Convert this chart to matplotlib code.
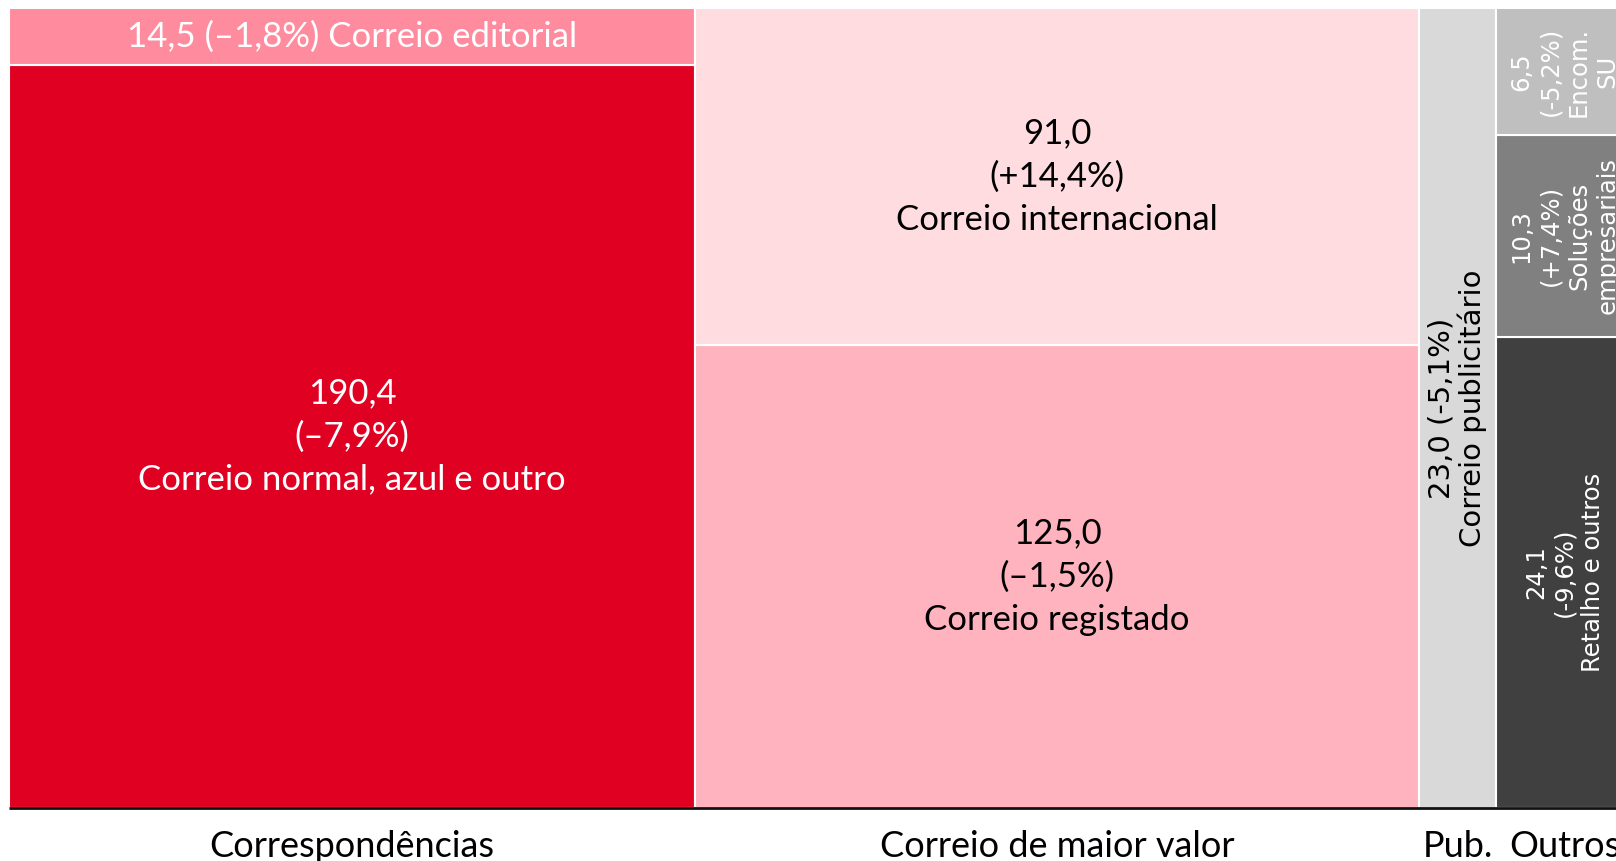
import matplotlib
matplotlib.use("Agg")
import matplotlib.pyplot as plt
from matplotlib import font_manager

# data: revenue by segment (values and year-on-year change)
groups = ["Correspondências", "Correio de maior valor", "Pub.", "Outros"]
names = [
    ["Correio normal, azul e outro", "Correio editorial"],
    ["Correio registado", "Correio internacional"],
    ["Correio publicitário"],
    ["Retalho e outros", "Soluções\nempresariais", "Encom.\nSU"],
]
values = [
    [190.4, 14.5],
    [125.0, 91.0],
    [23.0],
    [24.1, 10.3, 6.5],
]
changes = [
    [-7.9, -1.8],
    [-1.5, 14.4],
    [-5.1],
    [-9.6, 7.4, -5.2],
]
colors = [
    ["#E00022", "#FF8C9E"],
    ["#FFB3BF", "#FFDCE0"],
    ["#D9D9D9"],
    ["#404040", "#808080", "#BFBFBF"],
]
text_colors = [
    ["white", "white"],
    ["black", "black"],
    ["black"],
    ["white", "white", "white"],
]

installed = {f.name for f in font_manager.fontManager.ttflist}
narrow = "Liberation Sans Narrow" if "Liberation Sans Narrow" in installed else "Lato"
narrow_size = 30 if narrow == "Liberation Sans Narrow" else 26


def fmt(v):
    return f"{v:.1f}".replace(".", ",")


def fmt_pct(c, dash="–"):
    sign = "+" if c > 0 else dash
    return f"({sign}{fmt(abs(c))}%)"


W, H = 1616, 861
fig = plt.figure(figsize=(W / 100, H / 100), dpi=100)
totals = [sum(v) for v in values]
grand = sum(totals)
px_per_unit = 3.35
ax = fig.add_axes([9 / W, 53 / H, grand * px_per_unit / W, 800 / H])
ax.set_xlim(0, grand)
ax.set_ylim(0, 1)
ax.axis("off")

x0 = 0
for g, total in enumerate(totals):
    bottom = 0
    for i, v in enumerate(values[g]):
        h = v / total
        ax.bar(x0, h, width=total, bottom=bottom, align="edge",
               color=colors[g][i], edgecolor="white", linewidth=1.5)
        cx = x0 + total / 2
        cy = bottom + h / 2
        tc = text_colors[g][i]
        if g in (0, 1):
            if names[g][i] == "Correio editorial":
                label = f"{fmt(v)} {fmt_pct(changes[g][i])} {names[g][i]}"
            else:
                label = f"{fmt(v)}\n{fmt_pct(changes[g][i])}\n{names[g][i]}"
            ax.text(cx, cy, label, ha="center", va="center", color=tc,
                    fontsize=25, family="Lato", linespacing=1.42)
        elif g == 2:
            label = f"{fmt(v)} {fmt_pct(changes[g][i], '-')}\n{names[g][i]}"
            ax.text(cx, cy, label, ha="center", va="center", color=tc,
                    fontsize=21, rotation=90, linespacing=1.1)
        else:
            label = f"{fmt(v)}\n{fmt_pct(changes[g][i], '-')}\n{names[g][i]}"
            ax.text(cx, cy, label, ha="center", va="center", color=tc,
                    fontsize=17.5, rotation=90, linespacing=1.25)
        bottom += h
    ax.text(x0 + total / 2, -0.028, groups[g], ha="center", va="top",
            fontsize=narrow_size, family=narrow, clip_on=False)
    x0 += total

ax.plot([0, grand], [0, 0], color="#111111", linewidth=2, clip_on=False,
        solid_capstyle="butt")

fig.savefig("out.png", dpi=100)
